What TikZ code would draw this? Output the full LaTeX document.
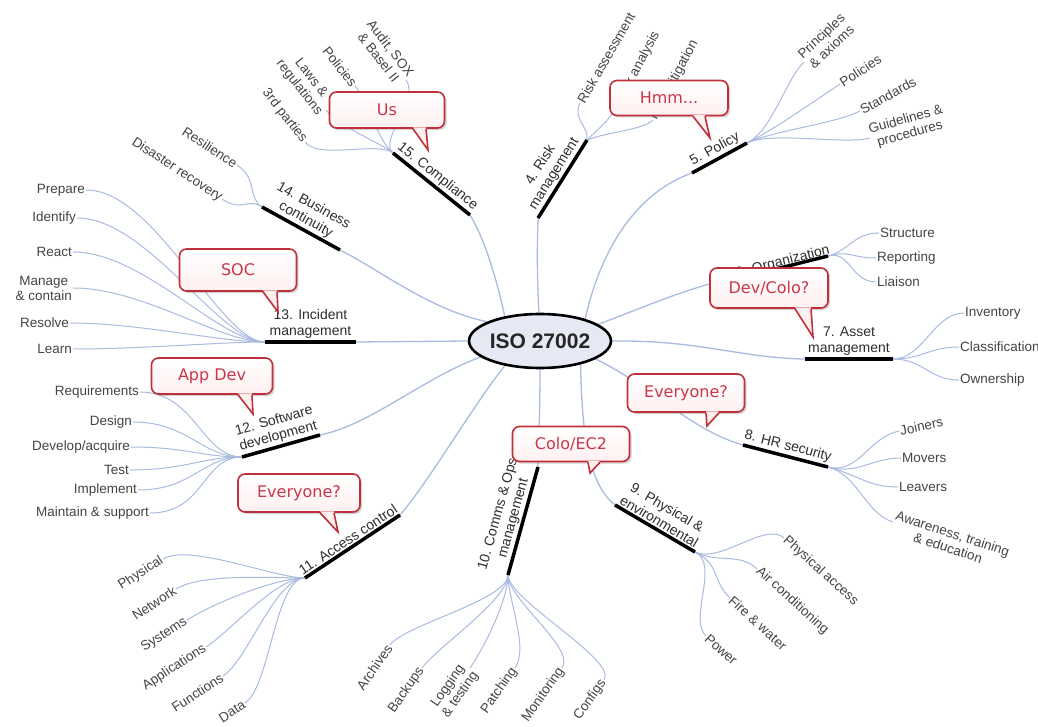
\documentclass[tikz,border=0pt]{standalone}
\usepackage{fontspec}
\setmainfont{Liberation Sans}
\newfontfamily\calloutfont{DejaVu Sans}
\usetikzlibrary{shapes.geometric,shadows,calc}
\pgfdeclarelayer{bg}
\pgfsetlayers{bg,main}
\definecolor{linkblue}{HTML}{A9BCE0}
\definecolor{cored}{HTML}{C0303A}
\definecolor{cotext}{HTML}{C8374A}
\definecolor{lbl}{HTML}{2E2E2E}
\definecolor{slbl}{HTML}{444444}
\definecolor{isofill}{HTML}{E6E8F4}
\tikzset{
  conn/.style={draw=linkblue, line width=1.3pt},
  subl/.style={draw=linkblue, line width=1pt},
  barline/.style={draw=black, line width=3.5pt},
  blabel/.style={font=\fontsize{14}{16}\selectfont, text=lbl, align=center, inner sep=1.5pt},
  slabel/.style={font=\fontsize{13.5}{15}\selectfont, text=slbl, align=center, inner sep=1pt},
  isostyle/.style={ellipse, draw=black, line width=2.6pt, fill=isofill, minimum width=136pt, minimum height=54pt, inner sep=0pt, font=\bfseries\fontsize{21}{24}\selectfont, text=black!85},
  cobox/.style={draw=cored, line width=1.6pt, rounded corners=7pt, top color=white, bottom color=red!6, text=cotext, font=\calloutfont\fontsize{16}{18}\selectfont, drop shadow={shadow xshift=2pt, shadow yshift=-2pt, opacity=0.35}},
}
\newcommand\mycallout[8]{%
  \node[cobox, minimum width=#3, minimum height=#4] (#1) at (#2) {#5};
  \coordinate (#1tip) at (#8);
  \fill[red!6] ($(#6,0 |- #1.south)+(0,-1.5)$) -- ($(#7,0 |- #1.south)+(0,-1.5)$) -- (#1tip) -- cycle;
  \draw[cored, line width=1.6pt, line join=miter] (#6,0 |- #1.south) -- (#1tip) -- (#7,0 |- #1.south);
}
\begin{document}
\begin{tikzpicture}[x=1pt,y=-1pt]
\useasboundingbox (0,0) rectangle (1038,727);
\begin{pgfonlayer}{bg}
\fill[white] (0,0) rectangle (1038,727);
\end{pgfonlayer}

\node[isostyle] (iso) at (540,341) {ISO 27002};

% bar coordinates
\coordinate (b4a) at (538,218);  \coordinate (b4b) at (587,140);
\coordinate (b5a) at (692,173);  \coordinate (b5b) at (747,143);
\coordinate (b6a) at (752,275);  \coordinate (b6b) at (828,256);
\coordinate (b7a) at (805,359);  \coordinate (b7b) at (893,359);
\coordinate (b8a) at (743,445);  \coordinate (b8b) at (828,467);
\coordinate (b9a) at (615,505);  \coordinate (b9b) at (695,552);
\coordinate (b10a) at (508,575); \coordinate (b10b) at (538,467);
\coordinate (b11a) at (305,578); \coordinate (b11b) at (400,515);
\coordinate (b12a) at (242,457); \coordinate (b12b) at (320,435);
\coordinate (b13a) at (265,342); \coordinate (b13b) at (356,342);
\coordinate (b14a) at (262,207); \coordinate (b14b) at (340,250);
\coordinate (b15a) at (393,153); \coordinate (b15b) at (470,215);

% bars with labels
\draw[barline] (b4a) -- node[blabel, sloped, above] (l4) {4. Risk\\management} (b4b);
\draw[barline] (b5a) -- node[blabel, sloped, above] (l5) {5. Policy} (b5b);
\draw[barline] (b6a) -- (b6b);
\node[blabel, rotate=14, anchor=south east] (l6) at (833,258) {6. Organization};
\draw[barline] (b7a) -- node[blabel, above] (l7) {7. Asset\\management} (b7b);
\draw[barline] (b8a) -- node[blabel, sloped, above] (l8) {8. HR security} (b8b);
\draw[barline] (b9a) -- node[blabel, sloped, above] (l9) {9. Physical \&\\environmental} (b9b);
\draw[barline] (b10a) -- node[blabel, sloped, above] (l10) {10. Comms \& Ops\\management} (b10b);
\draw[barline] (b11a) -- node[blabel, sloped, above] (l11) {11. Access control} (b11b);
\draw[barline] (b12a) -- node[blabel, sloped, above] (l12) {12. Software\\development} (b12b);
\draw[barline] (b13a) -- node[blabel, above] (l13) {13. Incident\\management} (b13b);
\draw[barline] (b14a) -- node[blabel, sloped, above] (l14) {14. Business\\continuity} (b14b);
\draw[barline] (b15a) -- node[blabel, sloped, above] (l15) {15. Compliance} (b15b);

% sub labels
\node[slabel, rotate=60, anchor=west] (s4a) at (580,103) {Risk assessment};
\node[slabel, rotate=62, anchor=west] (s4b) at (619,103) {Risk analysis};
\node[slabel, rotate=62, anchor=west] (s4c) at (653,120) {Risk mitigation};

\node[slabel, rotate=43, anchor=west] (s5a) at (804,62) {Principles\\\& axioms};
\node[slabel, rotate=33, anchor=west] (s5b) at (840,84) {Policies};
\node[slabel, rotate=29, anchor=west] (s5c) at (860,111) {Standards};
\node[slabel, rotate=16, anchor=west] (s5d) at (870,138) {Guidelines \&\\procedures};

\node[slabel, anchor=west] (s6a) at (879,233) {Structure};
\node[slabel, anchor=west] (s6b) at (876,258) {Reporting};
\node[slabel, anchor=west] (s6c) at (876,282) {Liaison};

\node[slabel, anchor=west] (s7a) at (964,313) {Inventory};
\node[slabel, anchor=west] (s7b) at (959,347) {Classification};
\node[slabel, anchor=west] (s7c) at (959,380) {Ownership};

\node[slabel, rotate=12, anchor=west] (s8a) at (899,431) {Joiners};
\node[slabel, anchor=west] (s8b) at (901,458) {Movers};
\node[slabel, anchor=west] (s8c) at (898,487) {Leavers};
\node[slabel, rotate=-18, anchor=west] (s8d) at (893,522) {Awareness, training\\\& education};

\node[slabel, rotate=-42, anchor=west] (s9a) at (784,538) {Physical access};
\node[slabel, rotate=-42, anchor=west] (s9b) at (757,569) {Air conditioning};
\node[slabel, rotate=-42, anchor=west] (s9c) at (730,598) {Fire \& water};
\node[slabel, rotate=-42, anchor=west] (s9d) at (706,636) {Power};

\node[slabel, rotate=55, anchor=east] (s10a) at (390,645) {Archives};
\node[slabel, rotate=55, anchor=east] (s10b) at (422,668) {Backups};
\node[slabel, rotate=55, anchor=east] (s10c) at (470,668) {Logging\\\& testing};
\node[slabel, rotate=55, anchor=east] (s10d) at (515,668) {Patching};
\node[slabel, rotate=55, anchor=east] (s10e) at (562,668) {Monitoring};
\node[slabel, rotate=55, anchor=east] (s10f) at (604,680) {Configs};

\node[slabel, rotate=33, anchor=east] (s11a) at (163,559) {Physical};
\node[slabel, rotate=33, anchor=east] (s11b) at (176,589) {Network};
\node[slabel, rotate=33, anchor=east] (s11c) at (187,620) {Systems};
\node[slabel, rotate=33, anchor=east] (s11d) at (206,647) {Applications};
\node[slabel, rotate=33, anchor=east] (s11e) at (223,676) {Functions};
\node[slabel, rotate=33, anchor=east] (s11f) at (245,703) {Data};

\node[slabel, anchor=east] (s12a) at (140,392) {Requirements};
\node[slabel, anchor=east] (s12b) at (133,422) {Design};
\node[slabel, anchor=east] (s12c) at (131,447) {Develop/acquire};
\node[slabel, anchor=east] (s12d) at (130,470) {Test};
\node[slabel, anchor=east] (s12e) at (138,490) {Implement};
\node[slabel, anchor=east] (s12f) at (150,513) {Maintain \& support};

\node[slabel, anchor=east] (s13a) at (86,190) {Prepare};
\node[slabel, anchor=east] (s13b) at (77,218) {Identify};
\node[slabel, anchor=east] (s13c) at (73,252) {React};
\node[slabel, anchor=east] (s13d) at (73,288) {Manage\\\& contain};
\node[slabel, anchor=east] (s13e) at (70,323) {Resolve};
\node[slabel, anchor=east] (s13f) at (73,349) {Learn};

\node[slabel, rotate=-33, anchor=east] (s14a) at (237,165) {Resilience};
\node[slabel, rotate=-33, anchor=east] (s14b) at (222,199) {Disaster recovery};

\node[slabel, rotate=-52, anchor=east] (s15a) at (305,142) {3rd parties};
\node[slabel, rotate=-52, anchor=east] (s15b) at (326,110) {Laws \&\\regulations};
\node[slabel, rotate=-52, anchor=east] (s15c) at (355,86) {Policies};
\node[slabel, rotate=-52, anchor=east] (s15d) at (406,80) {Audit, SOX\\\& Basel II};

\begin{pgfonlayer}{bg}
% main connectors
\draw[conn] (iso.92) .. controls (537,280) and (537,250) .. (b4a);
\draw[conn] (iso.26) .. controls (598,260) and (630,195) .. (b5a);
\draw[conn] (iso.16) .. controls (650,305) and (700,282) .. (b6a);
\draw[conn] (iso.0) .. controls (700,340) and (740,358) .. (b7a);
\draw[conn] (iso.342) .. controls (650,385) and (690,430) .. (b8a);
\draw[conn] (iso.330) .. controls (582,440) and (590,485) .. (b9a);
\draw[conn] (iso.270) .. controls (540,400) and (539,440) .. (b10b);
\draw[conn] (iso.215) .. controls (470,410) and (430,480) .. (b11b);
\draw[conn] (iso.195) .. controls (420,380) and (370,425) .. (b12b);
\draw[conn] (iso.180) -- (b13b);
\draw[conn] (iso.160) .. controls (430,310) and (380,270) .. (b14b);
\draw[conn] (iso.145) .. controls (497,280) and (485,240) .. (b15b);
% sub lines
\draw[subl] (b4b) .. controls +(2,-14) and +(-8,16) .. (s4a.west);
\draw[subl] (b4b) .. controls +(10,-10) and +(-8,16) .. (s4b.west);
\draw[subl] (b4b) .. controls +(20,-8) and +(-10,10) .. (s4c.west);
\draw[subl] (b5b) .. controls +(25,-12) and +(-18,17) .. (s5a.west);
\draw[subl] (b5b) .. controls +(25,-12) and +(-21,14) .. (s5b.west);
\draw[subl] (b5b) .. controls +(25,-12) and +(-22,12) .. (s5c.west);
\draw[subl] (b5b) .. controls +(25,-12) and +(-24,7) .. (s5d.west);
\foreach \s in {s6a,s6b,s6c}{\draw[subl] (b6b) .. controls +(22,-6) and +(-25,0) .. (\s.west);}
\foreach \s in {s7a,s7b,s7c}{\draw[subl] (b7b) .. controls +(30,0) and +(-30,0) .. (\s.west);}
\draw[subl] (b8b) .. controls +(30,8) and +(-30,6) .. (s8a.west);
\draw[subl] (b8b) .. controls +(30,8) and +(-30,0) .. (s8b.west);
\draw[subl] (b8b) .. controls +(30,8) and +(-30,0) .. (s8c.west);
\draw[subl] (b8b) .. controls +(30,8) and +(-28,-9) .. (s8d.west);
\foreach \s in {s9a,s9b,s9c,s9d}{\draw[subl] (b9b) .. controls +(25,12) and +(-18,-17) .. (\s.west);}
\foreach \s in {s10a,s10b,s10c,s10d,s10e,s10f}{\draw[subl] (b10a) .. controls +(0,25) and +(14,-20) .. (\s.east);}
\foreach \s in {s11a,s11b,s11c,s11d,s11e,s11f}{\draw[subl] (b11a) .. controls +(-30,0) and +(25,-16) .. (\s.east);}
\foreach \s in {s12a,s12b,s12c,s12d,s12e,s12f}{\draw[subl] (b12a) .. controls +(-40,0) and +(55,0) .. (\s.east);}
\foreach \s in {s13a,s13b,s13c,s13d,s13e,s13f}{\draw[subl] (b13a) .. controls +(-45,0) and +(70,0) .. (\s.east);}
\foreach \s in {s14a,s14b}{\draw[subl] (b14a) .. controls +(-15,-10) and +(21,14) .. (\s.east);}
\foreach \s in {s15a,s15b,s15c,s15d}{\draw[subl] (b15a) .. controls +(-15,-12) and +(14,18) .. (\s.east);}
\end{pgfonlayer}

% callouts
\mycallout{cUs}{387,110}{115pt}{36pt}{Us}{413}{426}{428,150}
\mycallout{cHmm}{669,98}{118pt}{35pt}{Hmm...}{693}{705}{710,138}
\mycallout{cSOC}{238,270}{117pt}{42pt}{SOC}{263}{277}{278,312}
\mycallout{cApp}{212,376}{121pt}{36pt}{App Dev}{238}{252}{253,414}
\mycallout{cEvL}{299,493}{122pt}{38pt}{Everyone?}{320}{334}{338,532}
\mycallout{cColo}{571,444}{117pt}{35pt}{Colo/EC2}{588}{600}{590,473}
\mycallout{cEvR}{686,393}{117pt}{38pt}{Everyone?}{706}{719}{707,426}
\mycallout{cDev}{769,288}{118pt}{40pt}{Dev/Colo?}{795}{811}{813,337}
\end{tikzpicture}
\end{document}
